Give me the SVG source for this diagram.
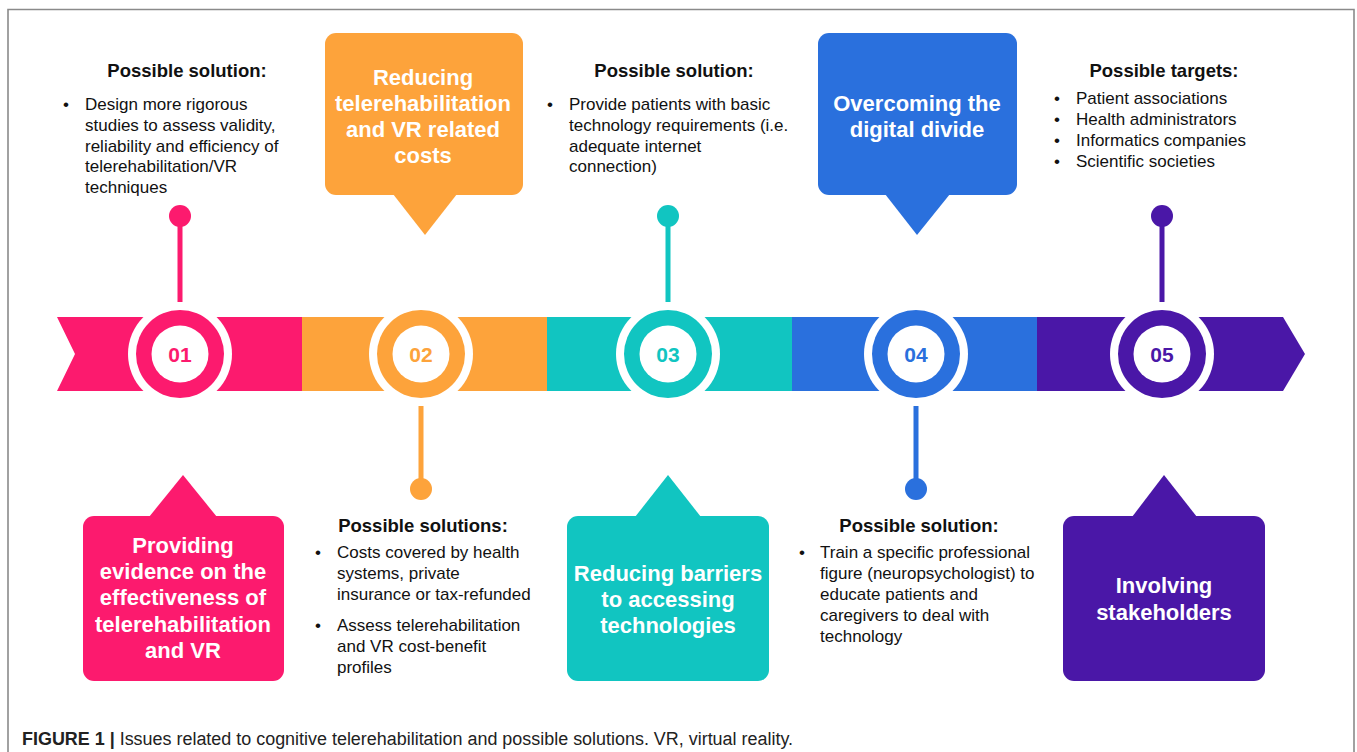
<svg xmlns="http://www.w3.org/2000/svg" width="1357" height="752" viewBox="0 0 1357 752">
<style>
text{font-family:"Liberation Sans",Arial,Helvetica,sans-serif;}
.h{font-size:18.5px;font-weight:bold;fill:#111;text-anchor:middle;}
.b{font-size:17px;fill:#111;}
.bt{font-size:22px;font-weight:bold;fill:#fff;text-anchor:middle;}
.num{font-size:21px;font-weight:bold;text-anchor:middle;}
.pink{fill:#FC1A6E;}
.orange{fill:#FDA33B;}
.teal{fill:#11C5C1;}
.blue{fill:#2A70DD;}
.purple{fill:#4A17A7;}
.wh{fill:#fff;}
</style>
<rect x="0" y="0" width="1357" height="752" fill="#fff"/>
<path d="M8 760 V9.5 H1354 V760" fill="none" stroke="#8a8a8a" stroke-width="1.6"/>

<g id="connectors">
  <rect class="pink" x="177.5" y="216" width="5" height="86"/>
  <circle class="pink" cx="180" cy="216" r="11"/>
  <rect class="teal" x="665.5" y="216" width="5" height="86"/>
  <circle class="teal" cx="668" cy="216" r="11"/>
  <rect class="purple" x="1159.5" y="216" width="5" height="86"/>
  <circle class="purple" cx="1162" cy="216" r="11"/>
  <rect class="orange" x="418.5" y="406" width="5" height="83"/>
  <circle class="orange" cx="421" cy="489" r="11"/>
  <rect class="blue" x="913.5" y="406" width="5" height="83"/>
  <circle class="blue" cx="916" cy="489" r="11"/>
</g>

<g id="band">
  <polygon class="pink" points="57,317 302,317 302,391 57,391 75,354"/>
  <rect class="orange" x="302" y="317" width="245" height="74"/>
  <rect class="teal" x="547" y="317" width="245" height="74"/>
  <rect class="blue" x="792" y="317" width="245" height="74"/>
  <polygon class="purple" points="1037,317 1283,317 1305,354 1283,391 1037,391"/>
</g>

<g id="step01">
  <circle class="wh" cx="180" cy="354" r="52"/>
  <circle class="pink" cx="180" cy="354" r="44"/>
  <circle class="wh" cx="180" cy="354" r="28.5"/>
  <text class="num pink" x="180" y="361.5">01</text>
</g>
<g id="step02">
  <circle class="wh" cx="421" cy="354" r="52"/>
  <circle class="orange" cx="421" cy="354" r="44"/>
  <circle class="wh" cx="421" cy="354" r="28.5"/>
  <text class="num orange" x="421" y="361.5">02</text>
</g>
<g id="step03">
  <circle class="wh" cx="668" cy="354" r="52"/>
  <circle class="teal" cx="668" cy="354" r="44"/>
  <circle class="wh" cx="668" cy="354" r="28.5"/>
  <text class="num teal" x="668" y="361.5">03</text>
</g>
<g id="step04">
  <circle class="wh" cx="916" cy="354" r="52"/>
  <circle class="blue" cx="916" cy="354" r="44"/>
  <circle class="wh" cx="916" cy="354" r="28.5"/>
  <text class="num blue" x="916" y="361.5">04</text>
</g>
<g id="step05">
  <circle class="wh" cx="1162" cy="354" r="52"/>
  <circle class="purple" cx="1162" cy="354" r="44"/>
  <circle class="wh" cx="1162" cy="354" r="28.5"/>
  <text class="num purple" x="1162" y="361.5">05</text>
</g>

<g id="callout01">
  <rect class="pink" x="83" y="516" width="201" height="165" rx="11"/>
  <polygon class="pink" points="149,517 183,475 217,517"/>
  <text class="bt" x="183" y="553">Providing</text>
  <text class="bt" x="183" y="579">evidence on the</text>
  <text class="bt" x="183" y="605">effectiveness of</text>
  <text class="bt" x="183" y="632">telerehabilitation</text>
  <text class="bt" x="183" y="658">and VR</text>
</g>
<g id="callout02">
  <rect class="orange" x="325" y="33" width="198" height="162" rx="11"/>
  <polygon class="orange" points="393,194 425,235 457,194"/>
  <text class="bt" x="423" y="85">Reducing</text>
  <text class="bt" x="423" y="111">telerehabilitation</text>
  <text class="bt" x="423" y="137">and VR related</text>
  <text class="bt" x="423" y="163">costs</text>
</g>
<g id="callout03">
  <rect class="teal" x="567" y="516" width="202" height="165" rx="11"/>
  <polygon class="teal" points="635,517 668,475 701,517"/>
  <text class="bt" x="668" y="581">Reducing barriers</text>
  <text class="bt" x="668" y="607">to accessing</text>
  <text class="bt" x="668" y="633">technologies</text>
</g>
<g id="callout04">
  <rect class="blue" x="818" y="33" width="199" height="162" rx="11"/>
  <polygon class="blue" points="885,194 917,235 950,194"/>
  <text class="bt" x="917" y="111">Overcoming the</text>
  <text class="bt" x="917" y="137">digital divide</text>
</g>
<g id="callout05">
  <rect class="purple" x="1063" y="516" width="202" height="165" rx="11"/>
  <polygon class="purple" points="1132,517 1164,475 1197,517"/>
  <text class="bt" x="1164" y="593">Involving</text>
  <text class="bt" x="1164" y="620">stakeholders</text>
</g>

<g id="text01">
  <text class="h" x="187" y="77">Possible solution:</text>
  <text class="b" x="63" y="110">•</text>
  <text class="b" x="85" y="110">Design more rigorous</text>
  <text class="b" x="85" y="131">studies to assess validity,</text>
  <text class="b" x="85" y="152">reliability and efficiency of</text>
  <text class="b" x="85" y="172">telerehabilitation/VR</text>
  <text class="b" x="85" y="193">techniques</text>
</g>
<g id="text02">
  <text class="h" x="423" y="532">Possible solutions:</text>
  <text class="b" x="315" y="558">•</text>
  <text class="b" x="337" y="558">Costs covered by health</text>
  <text class="b" x="337" y="579">systems, private</text>
  <text class="b" x="337" y="600">insurance or tax-refunded</text>
  <text class="b" x="315" y="631">•</text>
  <text class="b" x="337" y="631">Assess telerehabilitation</text>
  <text class="b" x="337" y="652">and VR cost-benefit</text>
  <text class="b" x="337" y="673">profiles</text>
</g>
<g id="text03">
  <text class="h" x="674" y="77">Possible solution:</text>
  <text class="b" x="547" y="110">•</text>
  <text class="b" x="569" y="110">Provide patients with basic</text>
  <text class="b" x="569" y="131">technology requirements (i.e.</text>
  <text class="b" x="569" y="152">adequate internet</text>
  <text class="b" x="569" y="172">connection)</text>
</g>
<g id="text04">
  <text class="h" x="919" y="532">Possible solution:</text>
  <text class="b" x="799" y="558">•</text>
  <text class="b" x="820" y="558">Train a specific professional</text>
  <text class="b" x="820" y="579">figure (neuropsychologist) to</text>
  <text class="b" x="820" y="600">educate patients and</text>
  <text class="b" x="820" y="621">caregivers to deal with</text>
  <text class="b" x="820" y="642">technology</text>
</g>
<g id="text05">
  <text class="h" x="1164" y="77">Possible targets:</text>
  <text class="b" x="1054" y="104">•</text>
  <text class="b" x="1076" y="104">Patient associations</text>
  <text class="b" x="1054" y="125">•</text>
  <text class="b" x="1076" y="125">Health administrators</text>
  <text class="b" x="1054" y="146">•</text>
  <text class="b" x="1076" y="146">Informatics companies</text>
  <text class="b" x="1054" y="167">•</text>
  <text class="b" x="1076" y="167">Scientific societies</text>
</g>

<text x="22" y="745" font-size="18" fill="#222" textLength="771" lengthAdjust="spacingAndGlyphs"><tspan font-weight="bold">FIGURE 1 |</tspan> Issues related to cognitive telerehabilitation and possible solutions. VR, virtual reality.</text>
</svg>
